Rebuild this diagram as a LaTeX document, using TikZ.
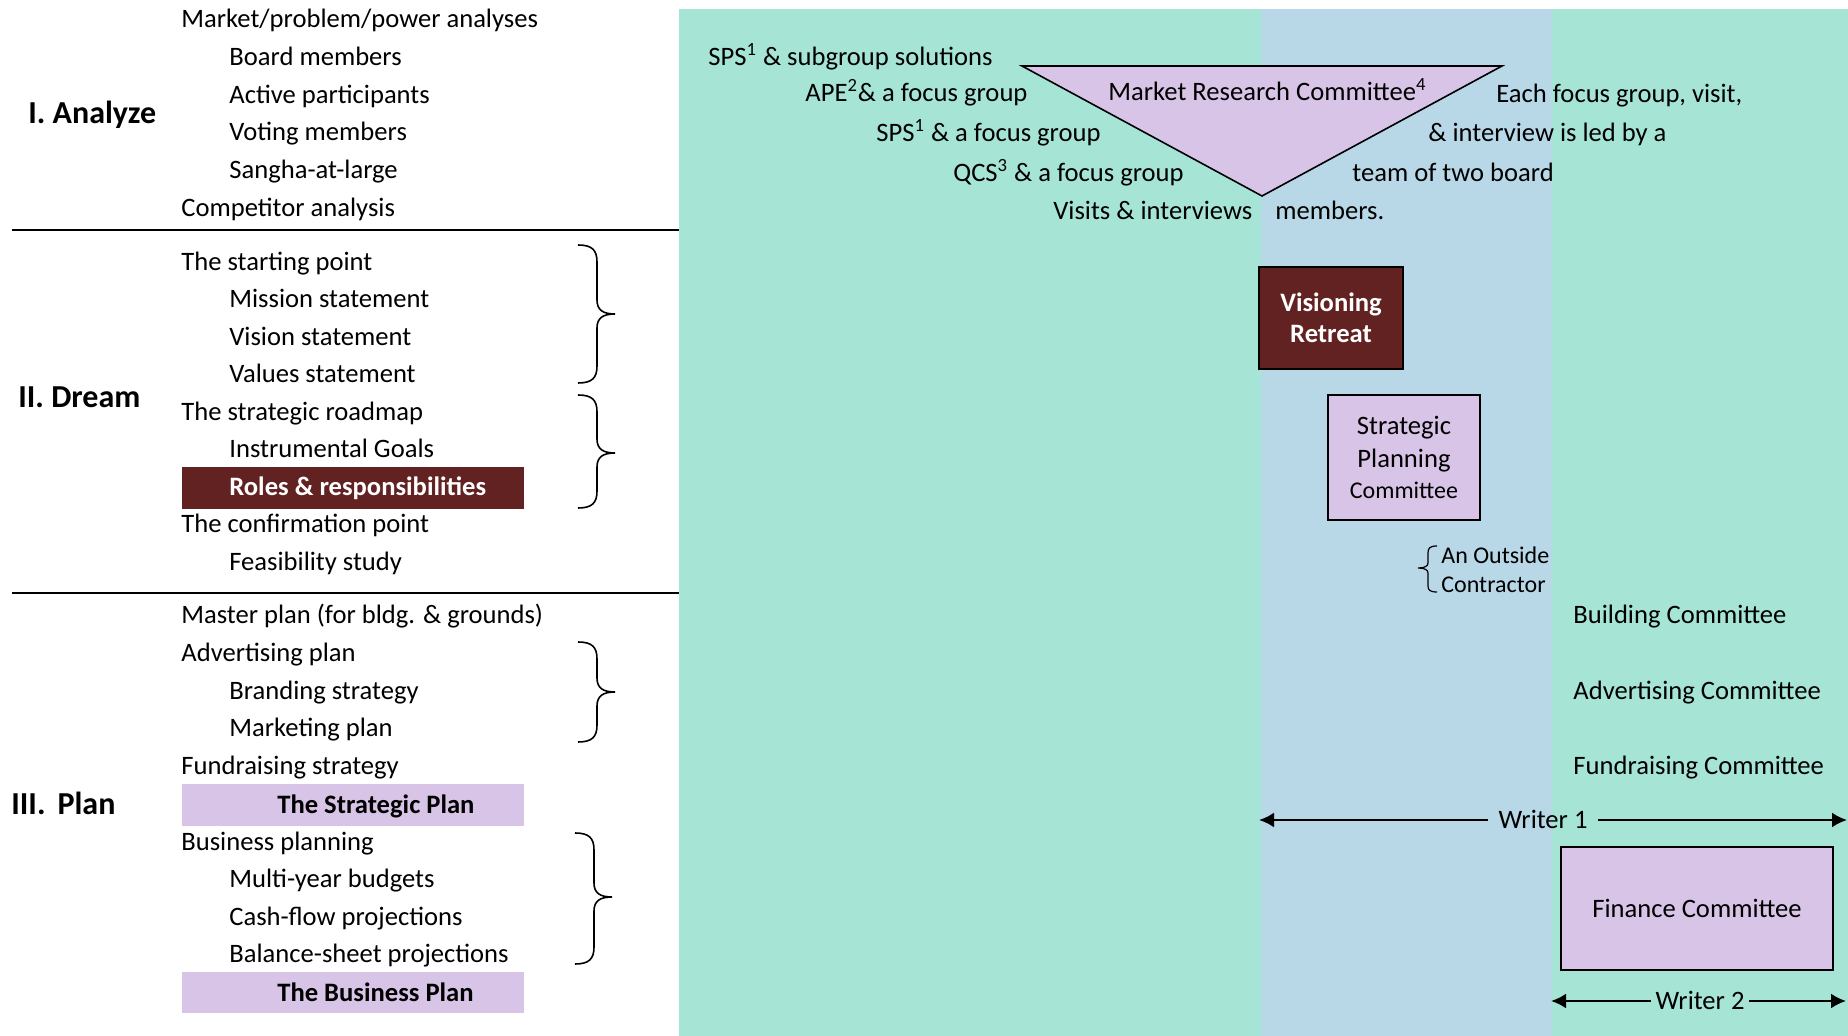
\documentclass[tikz,border=0pt]{standalone}
\usepackage{fontspec}
\setmainfont{Carlito}
\usetikzlibrary{arrows.meta}
\definecolor{bggreen}{RGB}{166,228,214}
\definecolor{bgblue}{RGB}{184,216,232}
\definecolor{lav}{RGB}{216,196,230}
\definecolor{maroon}{RGB}{99,34,34}
\newcommand{\myrbrace}[4]{%
  \draw[bracestyle] (#1,#2) .. controls ({#1+14},#2) and ({#1+19},{#2+5}) .. ({#1+19},{#2+17})
   -- ({#1+19},{#3-14}) .. controls ({#1+19},{#3-4}) and ({#1+25},#3) .. ({#1+37},#3)
   .. controls ({#1+25},#3) and ({#1+19},{#3+4}) .. ({#1+19},{#3+14})
   -- ({#1+19},{#4-17}) .. controls ({#1+19},{#4-5}) and ({#1+14},#4) .. (#1,#4);}
\tikzset{
  txt/.style={font=\fontsize{13.3}{16}\selectfont, inner sep=0pt, text height=10pt, text depth=1.1pt, anchor=west},
  smalltxt/.style={font=\fontsize{12}{14.5}\selectfont, inner sep=0pt, anchor=west, align=left},
  head/.style={font=\fontsize{16}{19}\selectfont\bfseries, inner sep=0pt, text height=13pt, text depth=1pt, anchor=west},
  boldtxt/.style={txt, font=\fontsize{13.3}{16}\selectfont\bfseries},
  bar/.style={inner sep=0pt, anchor=north west, minimum width=171pt},
  sepline/.style={line width=1pt},
  bracestyle/.style={line width=0.8pt},
  arr/.style={line width=1.2pt, -{Latex[length=7.5pt,width=7.5pt]}},
  wlabel/.style={font=\fontsize{13.3}{16}\selectfont, inner ysep=0pt, text height=10pt, text depth=1.1pt},
  committee/.style={draw=black, line width=0.8pt, fill=lav, inner sep=0pt},
}
\begin{document}
\begin{tikzpicture}[x=0.5pt,y=-0.5pt]
\useasboundingbox (0,0) rectangle (1848,1036);
% backgrounds
\fill[bggreen] (679,9) rectangle (1848,1036);
\fill[bgblue] (1261,9) rectangle (1552,1036);
% separators
\draw[sepline] (12,230) -- (679,230);
\draw[sepline] (12,593) -- (679,593);
% headings
\node[head] (hA) at (28,112) {I. Analyze};
\node[head] (hD) at (18,396) {II. Dream};
\node[head] (hP) at (11,803) {III.\hspace{6pt}Plan};
% bars
\node[bar, fill=maroon, minimum height=21pt] (rolesbar) at (182,467) {};
\node[bar, fill=lav, minimum height=21pt] (spbar) at (182,784) {};
\node[bar, fill=lav, minimum height=20.5pt] (bpbar) at (182,972) {};
% section I
\node[txt] (a1) at (181,19) {Market/problem/power analyses};
\node[txt] (a2) at (229,57) {Board members};
\node[txt] (a3) at (229,95) {Active participants};
\node[txt] (a4) at (229,132) {Voting members};
\node[txt] (a5) at (229,170) {Sangha-at-large};
\node[txt] (a6) at (181,208) {Competitor analysis};
% section II
\node[txt] (d1) at (181,262) {The starting point};
\node[txt] (d2) at (229,299) {Mission statement};
\node[txt] (d3) at (229,337) {Vision statement};
\node[txt] (d4) at (229,374) {Values statement};
\node[txt] (d5) at (181,412) {The strategic roadmap};
\node[txt] (d6) at (229,449) {Instrumental Goals};
\node[boldtxt, text=white] (d7) at (229,487) {Roles \& responsibilities};
\node[txt] (d8) at (181,524) {The confirmation point};
\node[txt] (d9) at (229,562) {Feasibility study};
% section III
\node[txt] (p1) at (181,615) {Master plan (for bldg. \& grounds)};
\node[txt] (p2) at (181,653) {Advertising plan};
\node[txt] (p3) at (229,691) {Branding strategy};
\node[txt] (p4) at (229,728) {Marketing plan};
\node[txt] (p5) at (181,766) {Fundraising strategy};
\node[boldtxt] (p6) at (277,805) {The Strategic Plan};
\node[txt] (p7) at (181,842) {Business planning};
\node[txt] (p8) at (229,879) {Multi-year budgets};
\node[txt] (p9) at (229,917) {Cash-flow projections};
\node[txt] (p10) at (229,954) {Balance-sheet projections};
\node[boldtxt] (p11) at (277,993) {The Business Plan};
% braces
\myrbrace{578}{245}{314}{383}
\myrbrace{578}{395}{453}{508}
\myrbrace{578}{642}{692}{742}
\myrbrace{575}{833}{897}{964}
% triangle
\draw[fill=lav, line width=0.8pt] (1022,66) -- (1502,66) -- (1262,196) -- cycle;
\node[txt] (mrc) at (1108,92) {Market Research Committee\textsuperscript{4}};
\node[txt] (l1) at (708,57) {SPS\textsuperscript{1} \& subgroup solutions};
\node[txt] (l2) at (805,93) {APE\textsuperscript{2}\& a focus group};
\node[txt] (l3) at (876,133) {SPS\textsuperscript{1} \& a focus group};
\node[txt] (l4) at (953,173) {QCS\textsuperscript{3} \& a focus group};
\node[txt] (l5) at (1053,211) {Visits \& interviews};
\node[txt] (r1) at (1496,94) {Each focus group, visit,};
\node[txt] (r2) at (1428,133) {\& interview is led by a};
\node[txt] (r3) at (1352,173) {team of two board};
\node[txt] (r4) at (1275,211) {members.};
% visioning retreat
\node[draw=black, line width=0.8pt, fill=maroon, text=white, minimum width=72pt, minimum height=51pt, inner sep=0pt, align=center, font=\fontsize{13.3}{15.5}\selectfont\bfseries] (vr) at (1331,318) {Visioning\\Retreat};
% strategic planning committee
\node[committee, minimum width=76pt, minimum height=62.5pt] (spcbox) at (1404,457.5) {};
\node[align=center, inner sep=0pt, font=\fontsize{13.3}{16.5}\selectfont] (spc) at (spcbox.center) {Strategic\\Planning\\[-1pt]{\fontsize{12}{14}\selectfont Committee}};
% outside contractor
\draw[line width=0.6pt] (1437,546) .. controls (1430,546) and (1428,548) .. (1428,553) -- (1428,563) .. controls (1428,566) and (1425,568) .. (1418,568) .. controls (1425,568) and (1428,570) .. (1428,573) -- (1428,586) .. controls (1428,590) and (1430,592) .. (1437,592);
\node[smalltxt] (oc) at (1441,569.5) {An Outside\\Contractor};
% committees
\node[txt] (bc) at (1573,615) {Building Committee};
\node[txt] (ac) at (1573,691) {Advertising Committee};
\node[txt] (fc) at (1573,766) {Fundraising Committee};
% writer 1
\node[wlabel, inner xsep=5pt] (w1) at (1543,820) {Writer 1};
\coordinate (w1l) at (1259,820);
\coordinate (w1r) at (1847,820);
\draw[arr] (w1.west) -- (w1l);
\draw[arr] (w1.east) -- (w1r);
% finance committee
\node[committee, minimum width=136pt, minimum height=61.5pt, font=\fontsize{13.3}{16}\selectfont] (fin) at (1697,908.5) {Finance Committee};
% writer 2
\node[wlabel, inner xsep=2pt] (w2) at (1700,1001) {Writer 2};
\coordinate (w2l) at (1551,1001);
\coordinate (w2r) at (1846,1001);
\draw[arr] (w2.west) -- (w2l);
\draw[arr] (w2.east) -- (w2r);
\end{tikzpicture}
\end{document}
